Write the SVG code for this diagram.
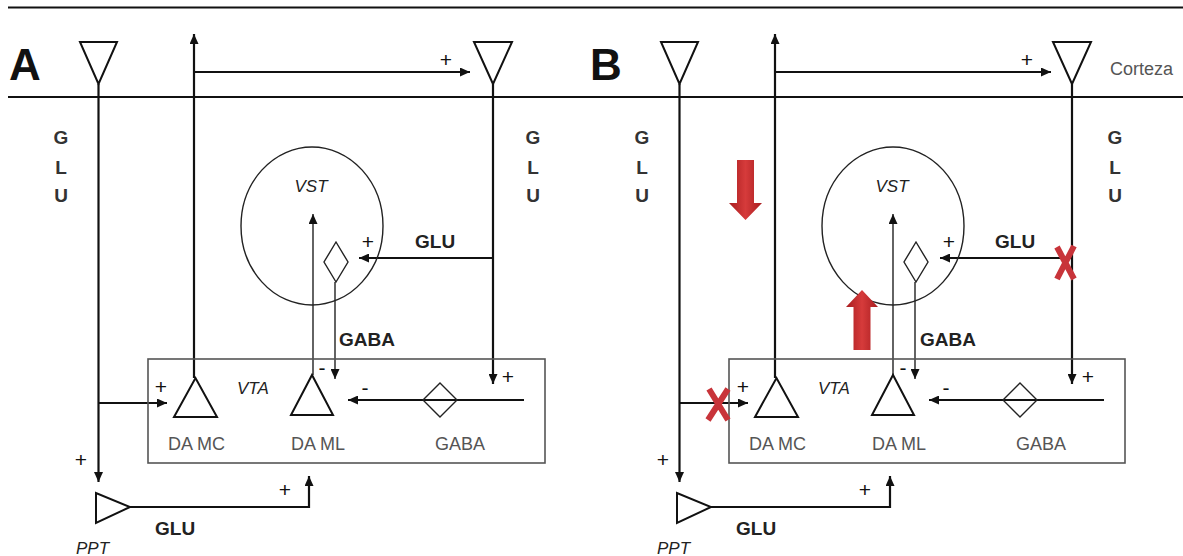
<svg xmlns="http://www.w3.org/2000/svg" width="1183" height="556" viewBox="0 0 1183 556">
<style>
.ln{fill:none;stroke:#111;stroke-width:2.2}
.thin{fill:none;stroke:#222;stroke-width:1.4}
.box{fill:none;stroke:#555;stroke-width:1.6}
.tri{fill:#fff;stroke:#111;stroke-width:2}
.lbl{font-family:"Liberation Sans",Arial,sans-serif;font-weight:bold;font-size:19px;fill:#222}
.sg{font-family:"Liberation Sans",Arial,sans-serif;font-size:21px;fill:#111;text-anchor:middle}
.big{font-family:"Liberation Sans",Arial,sans-serif;font-weight:bold;font-size:44px;fill:#111}
.gray{font-family:"Liberation Sans",Arial,sans-serif;font-size:18px;fill:#555}
.it{font-family:"Liberation Sans",Arial,sans-serif;font-style:italic;font-size:17px;fill:#222}
.vert{font-family:"Liberation Sans",Arial,sans-serif;font-weight:bold;font-size:19px;fill:#333;text-anchor:middle}
.red{fill:url(#rg)}
.rx{stroke:#c8343a;stroke-width:6;fill:none}
</style>
<defs>
<marker id="ah" markerUnits="userSpaceOnUse" markerWidth="10" markerHeight="9" refX="10" refY="4.5" orient="auto">
<path d="M0,0 L10,4.5 L0,9 z" fill="#111"/>
</marker>
<linearGradient id="rg" x1="0" y1="0" x2="1" y2="0">
<stop offset="0" stop-color="#a91d20"/>
<stop offset="0.5" stop-color="#d63b3b"/>
<stop offset="1" stop-color="#a91d20"/>
</linearGradient>
</defs>
<rect width="1183" height="556" fill="#fff"/>
<g id="cortex-lines">
<path class="ln" d="M8 7.5 H1183"/>
<path class="ln" d="M8 97 H1183" stroke-width="2.4"/>
</g>

<!-- PANEL A -->
<g id="panelA">
<text class="big" x="9" y="80">A</text>
<g id="A-connectors">
<path class="ln" d="M98.5 84 V482" marker-end="url(#ah)"/>
<path class="ln" d="M98.5 403 H167" marker-end="url(#ah)"/>
<path class="ln" d="M194 378 V34" marker-end="url(#ah)"/>
<path class="ln" d="M194 72 H470" marker-end="url(#ah)"/>
<path class="ln" d="M493 84 V384" marker-end="url(#ah)"/>
<path class="ln" d="M493 258 H359" marker-end="url(#ah)"/>
<path class="thin" d="M313 375 V214" marker-end="url(#ah)"/>
<path class="thin" d="M335 282 V379" marker-end="url(#ah)"/>
<path class="ln" d="M524 400 H348" marker-end="url(#ah)"/>
<path class="ln" d="M130 507 H309 V476" marker-end="url(#ah)"/>
</g>
<g id="A-cortex-left"><polygon class="tri" points="80,42 117,42 98.5,84"/></g>
<g id="A-cortex-right"><polygon class="tri" points="474,42 512,42 493,84"/></g>
<g id="A-vst"><ellipse class="thin" cx="312" cy="226" rx="71" ry="79"/><text class="it" x="311" y="192" text-anchor="middle">VST</text>
<polygon class="thin" fill="#fff" points="336,242 348,262 336,282 324,262"/></g>
<g id="A-vta"><rect class="box" x="148" y="359" width="397" height="104"/><text class="it" x="237" y="394">VTA</text></g>
<g id="A-damc"><polygon class="tri" points="174,417 217,417 195.5,378"/><text class="gray" x="168" y="450">DA MC</text></g>
<g id="A-daml"><polygon class="tri" points="291,415 333,415 312,375"/><text class="gray" x="291" y="450">DA ML</text></g>
<g id="A-gaba"><polygon class="thin" fill="none" stroke-width="1.8" points="440,383 457,400 440,417 423,400"/><text class="gray" x="435" y="450" font-size="19">GABA</text></g>
<g id="A-ppt"><polygon class="tri" points="96,493 96,523 130,507"/><text class="it" x="76" y="554" font-size="18">PPT</text></g>
<g id="A-labels">
<text class="vert" x="61" y="144">G</text><text class="vert" x="61" y="174">L</text><text class="vert" x="61" y="202">U</text>
<text class="vert" x="533" y="144">G</text><text class="vert" x="533" y="174">L</text><text class="vert" x="533" y="202">U</text>
<text class="sg" x="446" y="67">+</text>
<text class="lbl" x="415" y="248">GLU</text>
<text class="sg" x="368" y="249">+</text>
<text class="lbl" x="339" y="346" font-size="18">GABA</text>
<text class="sg" x="161" y="394">+</text>
<text class="sg" x="322" y="375">-</text>
<text class="sg" x="508" y="384">+</text>
<text class="sg" x="365" y="395">-</text>
<text class="sg" x="81" y="467">+</text>
<text class="sg" x="285" y="497">+</text>
<text class="lbl" x="155" y="535">GLU</text>
</g>
</g>

<!-- PANEL B -->
<g id="panelB">
<text class="big" x="590" y="80">B</text>
<text class="gray" x="1110" y="75" font-size="19">Corteza</text>
<g transform="translate(581,0)">
<g id="B-connectors">
<path class="ln" d="M98.5 84 V482" marker-end="url(#ah)"/>
<path class="ln" d="M98.5 403 H167" marker-end="url(#ah)"/>
<path class="ln" d="M194 378 V34" marker-end="url(#ah)"/>
<path class="ln" d="M194 72 H470" marker-end="url(#ah)"/>
<path class="ln" d="M491 84 V384" marker-end="url(#ah)"/>
<path class="ln" d="M491 258 H359" marker-end="url(#ah)"/>
<path class="thin" d="M312 375 V214" marker-end="url(#ah)"/>
<path class="thin" d="M334 282 V379" marker-end="url(#ah)"/>
<path class="ln" d="M523 400 H348" marker-end="url(#ah)"/>
<path class="ln" d="M130 507 H309 V476" marker-end="url(#ah)"/>
</g>
<g id="B-cortex-left"><polygon class="tri" points="80,42 117,42 98.5,84"/></g>
<g id="B-cortex-right"><polygon class="tri" points="472,42 510,42 491,84"/></g>
<g id="B-vst"><ellipse class="thin" cx="312" cy="226" rx="71" ry="79"/><text class="it" x="311" y="192" text-anchor="middle">VST</text>
<polygon class="thin" fill="#fff" points="335,242 347,262 335,282 323,262"/></g>
<g id="B-vta"><rect class="box" x="148" y="359" width="396" height="104"/><text class="it" x="237" y="394">VTA</text></g>
<g id="B-damc"><polygon class="tri" points="174,417 217,417 195.5,378"/><text class="gray" x="168" y="450">DA MC</text></g>
<g id="B-daml"><polygon class="tri" points="291,415 333,415 312,375"/><text class="gray" x="291" y="450">DA ML</text></g>
<g id="B-gaba"><polygon class="thin" fill="none" stroke-width="1.8" points="439,383 456,400 439,417 422,400"/><text class="gray" x="435" y="450" font-size="19">GABA</text></g>
<g id="B-ppt"><polygon class="tri" points="96,493 96,523 130,507"/><text class="it" x="76" y="554" font-size="18">PPT</text></g>
<g id="B-labels">
<text class="vert" x="61" y="144">G</text><text class="vert" x="61" y="174">L</text><text class="vert" x="61" y="202">U</text>
<text class="vert" x="534" y="144">G</text><text class="vert" x="534" y="174">L</text><text class="vert" x="534" y="202">U</text>
<text class="sg" x="446" y="67">+</text>
<text class="lbl" x="414" y="248">GLU</text>
<text class="sg" x="368" y="249">+</text>
<text class="lbl" x="339" y="346" font-size="18">GABA</text>
<text class="sg" x="162" y="394">+</text>
<text class="sg" x="322" y="375">-</text>
<text class="sg" x="507" y="384">+</text>
<text class="sg" x="365" y="395">-</text>
<text class="sg" x="82" y="467">+</text>
<text class="sg" x="284" y="497">+</text>
<text class="lbl" x="155" y="535">GLU</text>
</g>
</g>
<g id="B-red-marks">
<polygon class="red" points="737,160 754,160 754,203 762,203 745.5,220 729,203 737,203"/>
<polygon class="red" points="862,290 878,307 870.5,307 870.5,350 853.5,350 853.5,307 846,307"/>
<path class="rx" d="M1057 247 L1074 279 M1074 246 L1057 279"/>
<path class="rx" d="M709 389 L728 420 M728 389 L708 420"/>
</g>
</g>
</svg>
